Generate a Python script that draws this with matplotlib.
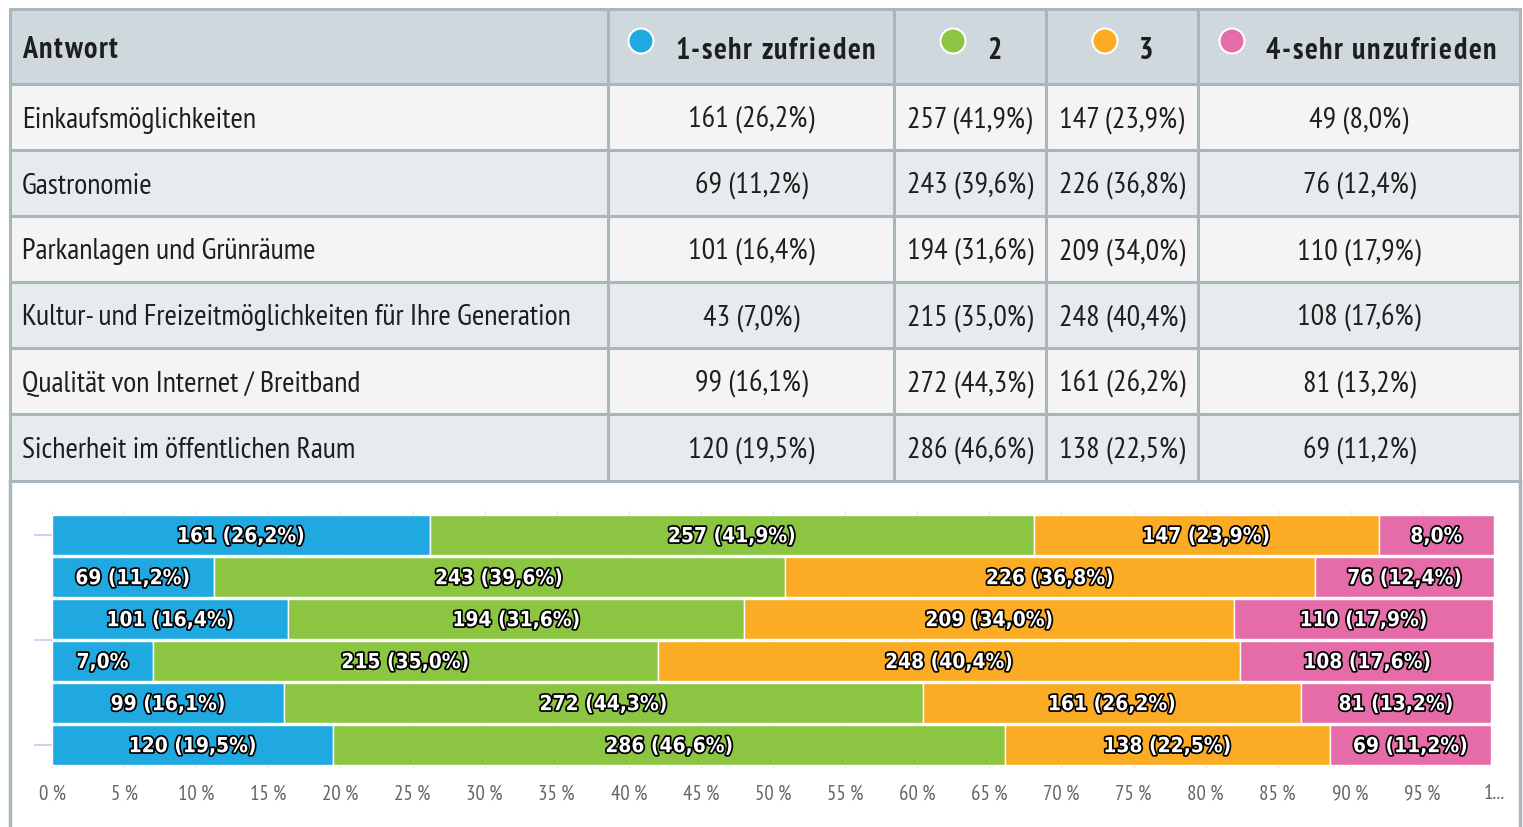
import matplotlib
matplotlib.use("Agg")
import matplotlib.pyplot as plt
import matplotlib.patheffects as pe
from matplotlib.patches import Rectangle, Circle
from matplotlib.font_manager import FontProperties
from matplotlib.textpath import TextToPath

# Survey data
categories = [
    "Einkaufsmöglichkeiten",
    "Gastronomie",
    "Parkanlagen und Grünräume",
    "Kultur- und Freizeitmöglichkeiten für Ihre Generation",
    "Qualität von Internet / Breitband",
    "Sicherheit im öffentlichen Raum",
]
series_names = ["1-sehr zufrieden", "2", "3", "4-sehr unzufrieden"]
counts_1 = [161, 69, 101, 43, 99, 120]
counts_2 = [257, 243, 194, 215, 272, 286]
counts_3 = [147, 226, 209, 248, 161, 138]
counts_4 = [49, 76, 110, 108, 81, 69]
pct_1 = [26.2, 11.2, 16.4, 7.0, 16.1, 19.5]
pct_2 = [41.9, 39.6, 31.6, 35.0, 44.3, 46.6]
pct_3 = [23.9, 36.8, 34.0, 40.4, 26.2, 22.5]
pct_4 = [8.0, 12.4, 17.9, 17.6, 13.2, 11.2]
tick_values = list(range(0, 101, 5))
tick_labels = [f"{v} %" for v in range(0, 100, 5)] + ["1..."]

colors = ["#20a9e1", "#8bc542", "#fbab24", "#e66ca9"]
counts = [counts_1, counts_2, counts_3, counts_4]
pcts = [pct_1, pct_2, pct_3, pct_4]

NARROW = ["PT Sans Narrow", "DejaVu Sans"]
plt.rcParams["font.family"] = NARROW

W, H = 1523, 828
fig = plt.figure(figsize=(W / 100, H / 100), dpi=100)


def fmt(v):
    return f"{v:.1f}".replace(".", ",")


# header text is letter-spaced, so place it glyph by glyph
t2p = TextToPath()


def spaced_text(ax, x, y, s, size, spacing, **kw):
    prop = FontProperties(family="PT Sans Narrow", weight="bold", size=size)
    for k, ch in enumerate(s):
        w_pt = t2p.get_text_width_height_descent(s[:k], prop, ismath=False)[0] if k else 0
        ax.text(x + w_pt * 100 / 72 + k * spacing, y, ch, fontproperties=prop,
                va="center", ha="left", **kw)


# ---- table drawn in pixel coordinates ----
bg = fig.add_axes([0, 0, 1, 1], zorder=0)
bg.set_xlim(0, W)
bg.set_ylim(H, 0)
bg.axis("off")

line_c = "#a9b6bc"
col_x = [10, 608, 894, 1046, 1198, 1520]
row_y = [10, 85, 151, 217, 283, 349, 415, 482]

bg.add_patch(Rectangle((10, 10), 1510, 75, color="#cfd8dc", lw=0))
for i in range(6):
    c = "#f4f4f4" if i % 2 == 0 else "#e8ebed"
    bg.add_patch(Rectangle((10, row_y[i + 1]), 1510, row_y[i + 2] - row_y[i + 1], color=c, lw=0))
bg.add_patch(Rectangle((10, 482), 1510, H - 482, color="white", lw=0))

for y in row_y:
    bg.plot([10, 1520], [y, y], color=line_c, lw=2.2)
for x in col_x:
    bg.plot([x, x], [10, 482], color=line_c, lw=2.2)
bg.plot([10, 10], [482, H], color=line_c, lw=2.5)
bg.plot([1520, 1520], [482, H], color=line_c, lw=2.5)

fs_table = 21.6
txt_c = "#1e1e1e"
spaced_text(bg, 22, 50, "Antwort", fs_table, 1.6, color=txt_c)
marker_x = [641, 953, 1105, 1232]
for mx, name, c in zip(marker_x, series_names, colors):
    bg.add_patch(Circle((mx, 42), 12.5, facecolor=c, edgecolor="white", lw=1.5))
    spaced_text(bg, mx + 34, 51, name, fs_table, 1.6, color=txt_c)

for i, cat in enumerate(categories):
    yc = (row_y[i + 1] + row_y[i + 2]) / 2 + 2
    bg.text(22, yc, cat, fontsize=fs_table, va="center", color=txt_c)
    for j in range(4):
        xc = (col_x[j + 1] + col_x[j + 2]) / 2
        bg.text(xc, yc, f"{counts[j][i]} ({fmt(pcts[j][i])}%)", fontsize=fs_table,
                va="center", ha="center", color=txt_c)

# ---- stacked bar chart ----
ax = fig.add_axes([52 / W, (H - 769) / H, 1442 / W, 257 / H], zorder=1)
ax.patch.set_alpha(0)
ypos = list(range(len(categories)))
left = [0.0] * len(categories)
for j in range(4):
    ax.barh(ypos, pcts[j], left=left, height=0.95, color=colors[j], edgecolor="white", lw=1)
    for i in ypos:
        label = f"{counts[j][i]} ({fmt(pcts[j][i])}%)" if pcts[j][i] >= 10 else f"{fmt(pcts[j][i])}%"
        ax.text(left[i] + pcts[j][i] / 2, i + 0.03, label, ha="center", va="center", color="white",
                fontsize=15, fontweight="bold", family="DejaVu Sans", fontstretch="condensed",
                path_effects=[pe.withStroke(linewidth=2.5, foreground="black")])
    left = [l + p for l, p in zip(left, pcts[j])]

ax.set_xlim(0, 100)
ax.set_ylim(5.55, -0.57)
for s in ax.spines.values():
    s.set_visible(False)
ax.set_xticks(tick_values)
ax.set_xticklabels(tick_labels, color="#666666", fontsize=15)
ax.tick_params(axis="x", length=0, pad=11)
ax.set_yticks([0, 2.5, 5])
ax.set_yticklabels([])
ax.tick_params(axis="y", length=13, color="#ccd6eb", width=1.5)
ax.grid(axis="x", color="#e6e6e6", lw=1)
ax.set_axisbelow(True)

fig.savefig("out.png", dpi=100)
